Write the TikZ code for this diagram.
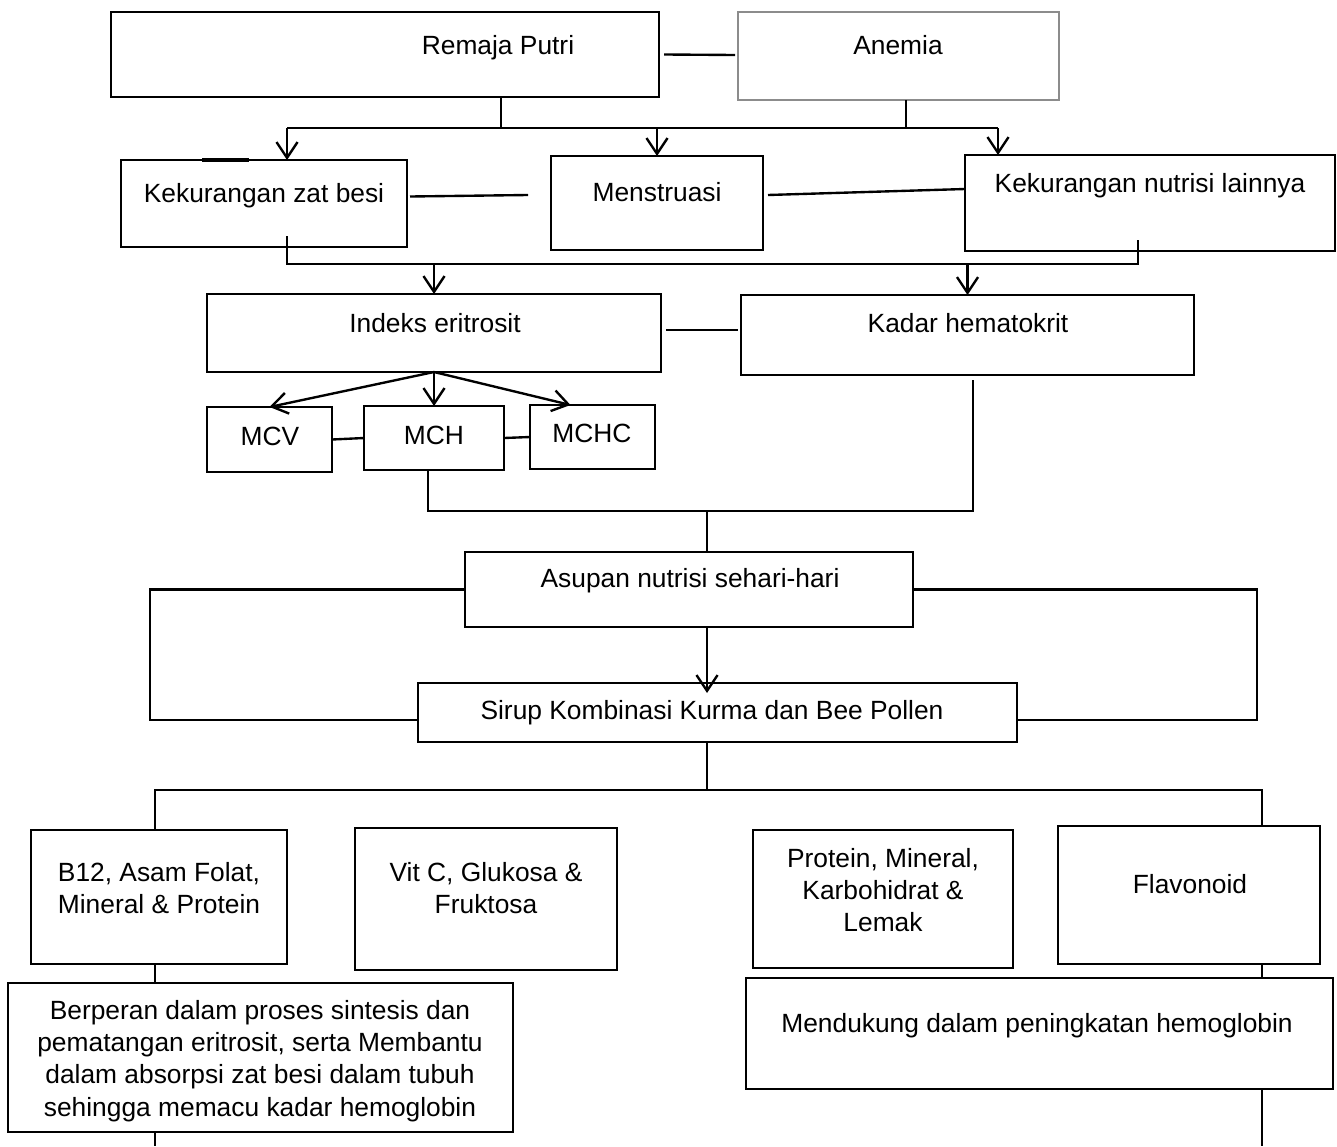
\documentclass[tikz,border=0pt]{standalone}
\usepackage{fontspec}
\setmainfont{Liberation Sans}
\usetikzlibrary{arrows.meta,calc}
% kotak: nama, x1, y1, x2, y2 (piksel)
\newcommand\kotak[6][]{%
  \node[kotak,#1,minimum width={(#5-#3)*0.02cm},minimum height={(#6-#4)*0.02cm}] (#2) at ({(#3+#5)/2},{(#4+#6)/2}) {};}

\begin{document}
\begin{tikzpicture}[x=0.02cm,y=-0.02cm,line width=1.35pt,>={Straight Barb[length=9pt,width=12pt]},
  kotak/.style={draw,inner sep=0pt,outer sep=0pt},
  tipis/.style={draw=black!45,line width=0.6pt},
  teks/.style={inner sep=0pt,anchor=base,font=\fontsize{15}{18.4}\selectfont},
  teksblok/.style={inner sep=0pt,anchor=north,align=center,font=\fontsize{15}{18.4}\selectfont}]
  \useasboundingbox (0,0) rectangle (1337,1146);
  % Kotak
  \kotak{rp}{111}{12}{659}{97}
  \kotak[tipis]{an}{738}{12}{1059}{100}
  \kotak{kzb}{121}{160}{407}{247}
  \kotak{mens}{551}{156}{763}{250}
  \kotak{knl}{965}{155}{1335}{251}
  \kotak{ie}{207}{294}{661}{372}
  \kotak{kh}{741}{295}{1194}{375}
  \kotak{mcv}{207}{407}{332}{472}
  \kotak{mch}{364}{406}{504}{470}
  \kotak{mchc}{530}{405}{655}{469}
  \kotak{as}{465}{552}{913}{627}
  \kotak{sk}{418}{683}{1017}{742}
  \kotak{b12}{31}{830}{287}{964}
  \kotak{vc}{355}{828}{617}{970}
  \kotak{pm}{753}{830}{1013}{968}
  \kotak{fl}{1058}{826}{1320}{964}
  \kotak{bp}{8}{983}{513}{1132}
  \kotak{md}{746}{978}{1333}{1089}
  \draw[line width=2.6pt] ($(kzb.north west)+(81,0)$) -- ++(47,0);
  % Teks
  \node[teks] (t-rp) at (498,54) {Remaja Putri};
  \node[teks] (t-an) at (898,54) {Anemia};
  \node[teks] (t-kzb) at (264,202) {Kekurangan zat besi};
  \node[teks] (t-mens) at (657,201) {Menstruasi};
  \node[teks] (t-knl) at (1150,192) {Kekurangan nutrisi lainnya};
  \node[teks] (t-ie) at (435,332) {Indeks eritrosit};
  \node[teks] (t-kh) at (968,332) {Kadar hematokrit};
  \node[teks] (t-mcv) at (270,445) {MCV};
  \node[teks] (t-mch) at (434,444) {MCH};
  \node[teks] (t-mchc) at (592,442) {MCHC};
  \node[teks] (t-as) at (690,587) {Asupan nutrisi sehari-hari};
  \node[teks] (t-sk) at (712,719) {Sirup Kombinasi Kurma dan Bee Pollen};
  \node[teksblok] (t-b12) at (159,861) {B12, Asam Folat,\\Mineral \& Protein};
  \node[teksblok] (t-vc) at (486,861) {Vit C, Glukosa \&\\Fruktosa};
  \node[teksblok] (t-pm) at (883,847) {Protein, Mineral,\\Karbohidrat \&\\Lemak};
  \node[teks] (t-fl) at (1190,893) {Flavonoid};
  \node[teksblok] (t-bp) at (260,999) {Berperan dalam proses sintesis dan\\pematangan eritrosit, serta Membantu\\dalam absorpsi zat besi dalam tubuh\\sehingga memacu kadar hemoglobin};
  \node[teks] (t-md) at (1037,1032) {Mendukung dalam peningkatan hemoglobin};
  % Garis penghubung samping
  \draw ($(rp.east)+(5,0)$) -- ($(an.west)+(-3,-1)$);
  \draw ($(kzb.east)+(3,-7)$) -- ($(mens.west)+(-23,-8)$);
  \draw ($(mens.east)+(5,-8)$) -- ($(knl.west)+(0,-14)$);
  \draw ($(ie.east)+(5,-3)$) -- ($(kh.west)+(-3,-5)$);
  \draw (mcv.east) -- (mch.west);
  \draw (mch.east) -- (mchc.west);
  % Remaja Putri & Anemia ke bawah
  \coordinate (j1) at (501,128);
  \coordinate (j2) at (906,128);
  \coordinate (a1) at (287,128);
  \coordinate (a2) at (998,128);
  \draw (rp.south -| j1) -- (j1);
  \draw (an.south -| j2) -- (j2);
  \draw (a1) -- (a2);
  \draw[->] (a1) -- (a1 |- kzb.north);
  \draw[->] (mens.north |- a1) -- (mens.north);
  \draw[->] (a2) -- (a2 |- knl.north);
  % ke Indeks eritrosit & Kadar hematokrit
  \coordinate (b1) at (287,264);
  \coordinate (b2) at (1138,264);
  \draw ($(kzb.south -| b1)+(0,-11)$) -- (b1) -- (b2) -- ($(knl.south -| b2)+(0,-11)$);
  \draw[->] (ie.north |- b1) -- (ie.north);
  \draw[->] (kh.north |- b1) -- (kh.north);
  % MCV, MCH, MCHC
  \draw[->] (ie.south) -- (mcv.north);
  \draw[->] (ie.south) -- (mch.north);
  \draw[->] (ie.south) -- ($(mchc.north)+(-22,0)$);
  % ke Asupan nutrisi
  \coordinate (d1) at (428,511);
  \coordinate (d2) at (973,511);
  \coordinate (d3) at (707,511);
  \draw (mch.south -| d1) -- (d1) -- (d2) -- ($(kh.south -| d2)+(0,5)$);
  \draw (d3) -- (d3 |- as.north);
  \coordinate (e1) at (150,720);
  \coordinate (e2) at (1257,720);
  \draw (as.west) -| (e1) -- (e1 -| sk.west);
  \draw (as.east) -| (e2) -- (e2 -| sk.east);
  \draw[->] (as.south -| d3) -- ($(sk.north -| d3)+(0,10)$);
  % cabang bawah
  \coordinate (f1) at (155,790);
  \coordinate (f2) at (1262,790);
  \coordinate (g1) at (155,1146);
  \coordinate (g2) at (1262,1146);
  \draw (sk.south -| d3) -- (d3 |- f1);
  \draw (b12.north -| f1) -- (f1) -- (f2) -- (f2 |- fl.north);
  \draw (b12.south -| f1) -- (f1 |- bp.north);
  \draw (fl.south -| f2) -- (f2 |- md.north);
  \draw (bp.south -| f1) -- (g1);
  \draw (md.south -| f2) -- (g2);
\end{tikzpicture}
\end{document}
